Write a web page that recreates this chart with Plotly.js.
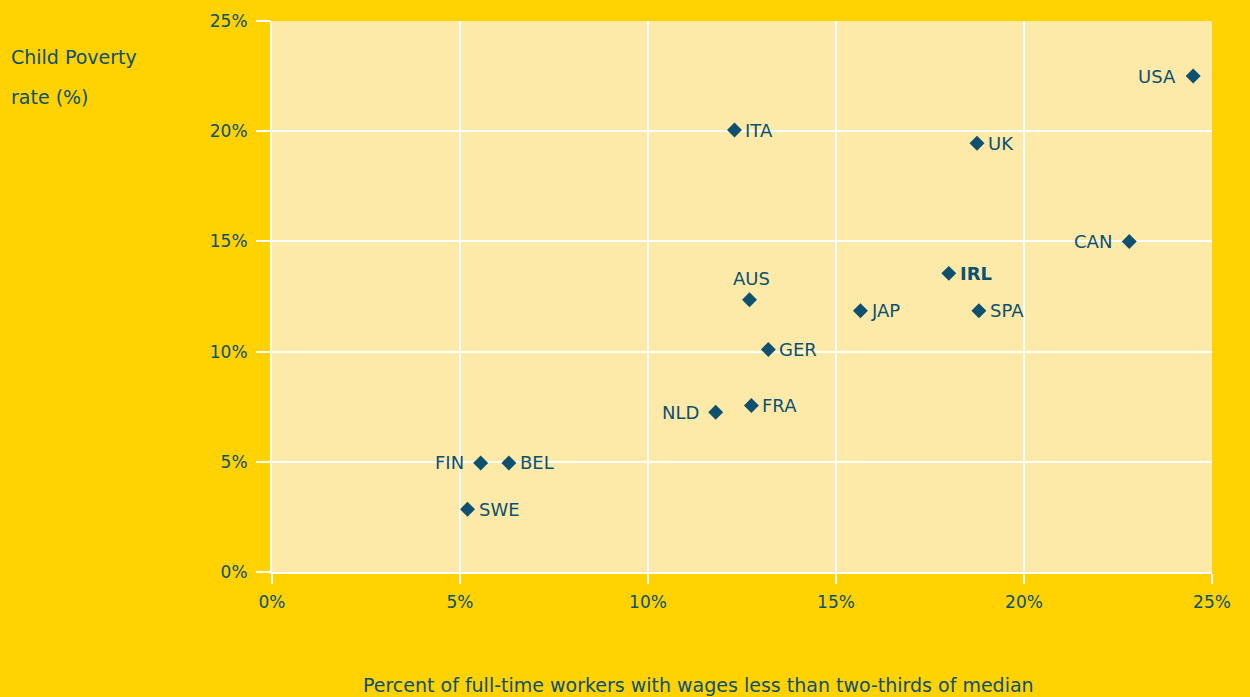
<!DOCTYPE html>
<html><head><meta charset="utf-8">
<script src="https://cdn.plot.ly/plotly-3.0.1.min.js"></script>
<style>html,body{margin:0;padding:0;background:#FFD200;}#chart{width:1250px;height:697px;}</style>
</head><body><div id="chart"></div>
<script>
const countries = ["USA","ITA","UK","CAN","IRL","AUS","JAP","SPA","GER","FRA","NLD","FIN","BEL","SWE"];
const lowWageShare = [24.5,12.3,18.75,22.8,18.0,12.7,15.65,18.8,13.2,12.75,11.8,5.55,6.3,5.2];
const childPoverty = [22.5,20.05,19.45,15.0,13.55,12.35,11.85,11.85,10.1,7.55,7.25,4.95,4.95,2.85];
const labelSides = ["left","right","right","left","right","top","right","right","right","right","left","left","right","right"];
const tickVals = [0,5,10,15,20,25];
const tickText = ["0%","5%","10%","15%","20%","25%"];

const ink = "#0D5070";
const font = "DejaVu Sans";

const trace = {
  x: lowWageShare, y: childPoverty,
  mode: "markers", type: "scatter",
  marker: {symbol: "diamond", size: 11.5, color: ink},
  hoverinfo: "skip", cliponaxis: false
};

const labelAnnotations = countries.map((c, i) => {
  const side = labelSides[i];
  return {
    x: lowWageShare[i], y: childPoverty[i], xref: "x", yref: "y",
    text: c === "IRL" ? "<b>" + c + "</b>" : c,
    showarrow: false,
    xanchor: side === "left" ? "right" : (side === "right" ? "left" : "center"),
    yanchor: "middle",
    xshift: side === "left" ? -15 : (side === "right" ? 9 : 2),
    yshift: side === "top" ? 21 : 0,
    font: {family: font, size: 18, color: ink}
  };
});

const axisCommon = {
  range: [0, 25], tickvals: tickVals, ticktext: tickText,
  showgrid: true, gridcolor: "#FFFFFF", gridwidth: 2,
  showline: true, linecolor: "#FFFFFF", linewidth: 2,
  ticks: "outside", tickcolor: "#FFFFFF", tickwidth: 2,
  tickfont: {family: font, size: 17, color: ink},
  zeroline: false, fixedrange: true
};

const layout = {
  width: 1250, height: 697,
  paper_bgcolor: "#FFD200", plot_bgcolor: "#FEEAA8",
  margin: {l: 272, r: 38, t: 21, b: 125},
  showlegend: false,
  xaxis: Object.assign({}, axisCommon, {ticklen: 10, ticklabelstandoff: 4}),
  yaxis: Object.assign({}, axisCommon, {ticklen: 14, ticklabelstandoff: 5}),
  annotations: labelAnnotations.concat([
    {text: "Child Poverty", xref: "paper", yref: "paper", x: -263/940, y: 1 + (21-57)/551, xanchor: "left", yanchor: "middle", showarrow: false, font: {family: font, size: 19, color: ink}},
    {text: "rate (%)", xref: "paper", yref: "paper", x: -263/940, y: 1 + (21-97)/551, xanchor: "left", yanchor: "middle", showarrow: false, font: {family: font, size: 19, color: ink}},
    {text: "Percent of full-time workers with wages less than two-thirds of median", xref: "paper", yref: "paper", x: (698-272)/940, y: -(685-572)/551, xanchor: "center", yanchor: "middle", showarrow: false, font: {family: font, size: 19, color: ink}}
  ])
};

Plotly.newPlot("chart", [trace], layout, {displayModeBar: false, staticPlot: true});
</script></body></html>
